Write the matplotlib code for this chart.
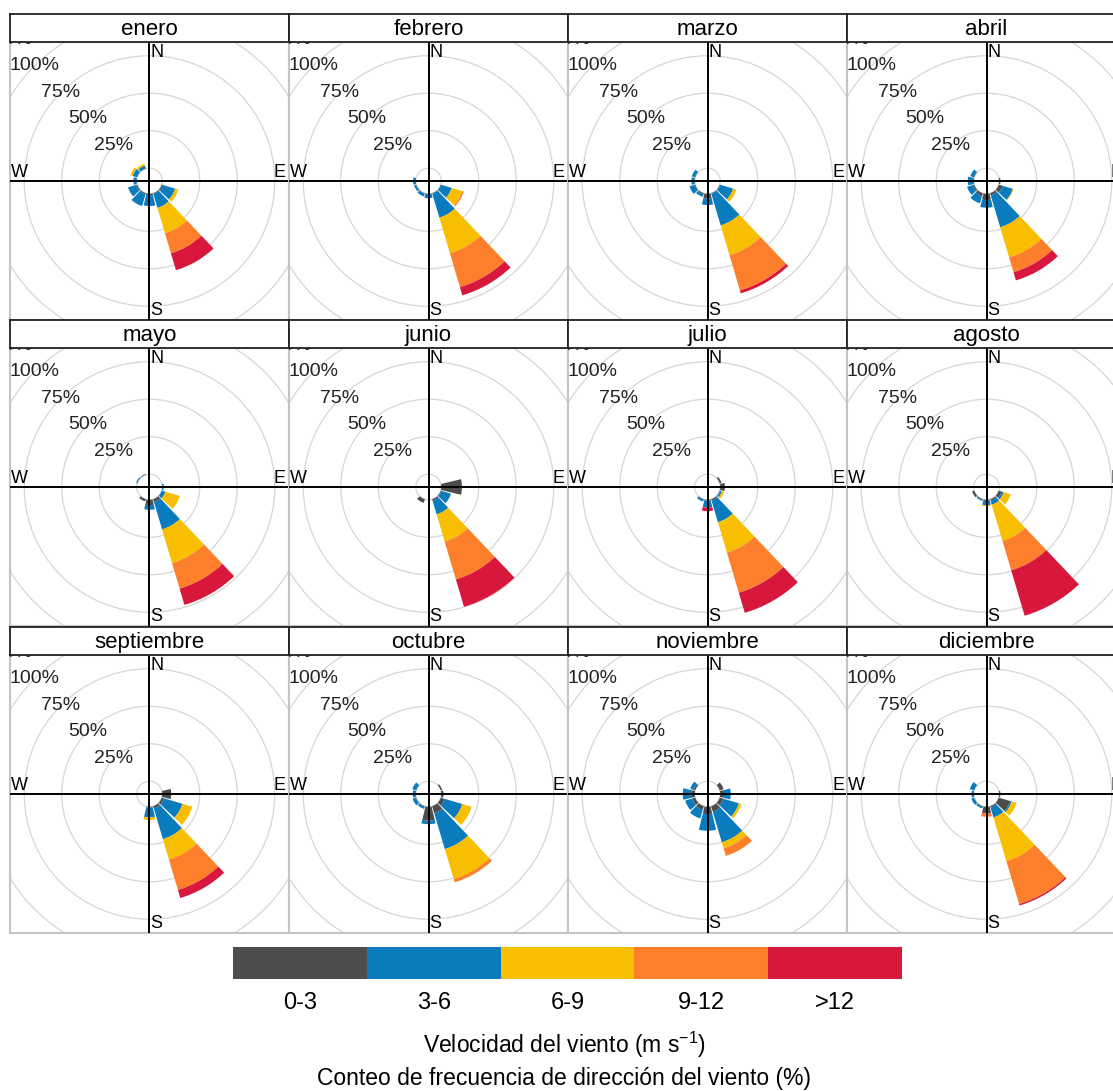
import matplotlib
matplotlib.use('Agg')
import matplotlib.pyplot as plt
from matplotlib.patches import Wedge, Circle
import numpy as np

plt.rcParams['font.family'] = ['Liberation Sans', 'DejaVu Sans']
plt.rcParams['mathtext.default'] = 'regular'

# frecuencia (%) por sector (grados) y rango de velocidad: 0-3, 3-6, 6-9, 9-12, >12
meses = ['enero', 'febrero', 'marzo', 'abril', 'mayo', 'junio', 'julio',
         'agosto', 'septiembre', 'octubre', 'noviembre', 'diciembre']
rangos = ['0-3', '3-6', '6-9', '9-12', '>12']
colores = ['#4D4D4D', '#0A7BBC', '#F8BE00', '#FD7F2B', '#D7173B']
niveles = [25, 50, 75, 100, 125]

enero = {120: [1.0, 8.3, 2.2, 0, 0], 150: [0.5, 9.7, 17.6, 14.0, 11.7],
         180: [1.0, 7.2, 0, 0, 0], 210: [0.7, 8.2, 0, 0, 0],
         240: [0.8, 5.6, 0, 0, 0], 270: [0.3, 1.9, 0, 0, 0],
         300: [0.2, 3.0, 1.5, 0, 0], 330: [0.2, 2.0, 1.3, 0, 0]}
febrero = {120: [0.2, 7.4, 7.4, 1.0, 0], 150: [0.3, 16.7, 24.8, 23.5, 5.7],
           180: [0.2, 2.8, 0, 0, 0], 210: [0.2, 2.0, 0, 0, 0],
           240: [0.1, 1.4, 0, 0, 0], 270: [0, 1.8, 0, 0, 0]}
marzo = {120: [0.3, 9.0, 2.2, 0, 0], 150: [0.3, 22.1, 20.7, 24.5, 2.0],
         180: [3.1, 4.4, 0, 0, 0], 210: [0.8, 1.7, 0, 0, 0],
         240: [0.3, 3.7, 0, 0, 0], 270: [0.2, 2.0, 0, 0, 0],
         300: [0.2, 2.2, 0, 0, 0]}
abril = {90: [0.8, 0, 0, 0, 0], 120: [2.7, 7.1, 0.5, 0, 0],
         150: [1.5, 22.2, 20.9, 10.4, 5.6], 180: [4.2, 5.1, 0, 0, 0],
         210: [2.0, 5.0, 0, 0, 0], 240: [1.0, 4.0, 0, 0, 0],
         270: [0.5, 3.5, 0, 0, 0], 300: [0.3, 2.4, 0, 0, 0]}
mayo = {90: [0, 1.0, 0, 0, 0], 120: [0, 2.5, 10.1, 0, 0],
        150: [2.0, 19.0, 23.4, 17.8, 11.3], 180: [3.6, 3.1, 0, 0, 0],
        210: [1.5, 0, 0, 0, 0], 300: [0, 0.8, 0, 0, 0], 330: [0, 0.5, 0, 0, 0]}
junio = {90: [13.8, 0, 0, 0, 0], 120: [0.5, 6.6, 0, 0, 0],
         150: [1.0, 9.5, 19.0, 26.3, 19.0], 210: [2.5, 0, 0, 0, 0]}
julio = {60: [1.2, 0, 0, 0, 0], 90: [3.1, 0, 0, 0, 0], 120: [0.3, 1.2, 1.5, 0, 0],
         150: [1.0, 15.0, 21.1, 27.9, 14.0], 180: [0.5, 4.8, 0, 0, 2.3],
         210: [0.3, 1.3, 0, 0, 0]}
agosto = {120: [2.0, 1.5, 4.9, 0, 0], 150: [1.0, 2.8, 25.2, 20.5, 31.5],
          180: [0.8, 2.8, 0.7, 0, 0], 210: [0.5, 0.7, 0, 0, 0],
          240: [1.5, 0, 0, 0, 0]}
septiembre = {90: [6.0, 0, 0, 0, 0], 120: [1.6, 12.8, 6.9, 0, 0],
              150: [1.5, 21.4, 14.2, 21.1, 5.6], 180: [0.5, 6.6, 1.8, 0, 0]}
octubre = {60: [1.0, 0, 0, 0, 0], 90: [1.5, 0, 0, 0, 0],
           120: [2.7, 12.3, 6.5, 0, 0], 150: [4.9, 24.9, 20.8, 2.3, 0],
           180: [9.3, 2.3, 0, 0, 0], 210: [0.3, 1.5, 0, 0, 0],
           240: [0.2, 2.3, 0, 0, 0], 270: [0, 2.0, 0, 0, 0], 300: [0, 2.7, 0, 0, 0]}
noviembre = {60: [2.7, 0, 0, 0, 0], 90: [2.5, 4.5, 0, 0, 0],
             120: [2.5, 10.8, 1.7, 0, 0], 150: [3.8, 21.3, 4.2, 5.2, 0],
             180: [4.9, 11.1, 0, 0, 0], 210: [2.5, 6.0, 0, 0, 0],
             240: [2.0, 5.0, 0, 0, 0], 270: [2.0, 6.0, 0, 0, 0],
             300: [1.0, 2.5, 0, 0, 0]}
diciembre = {90: [0.8, 0, 0, 0, 0], 120: [8.0, 1.0, 3.4, 0, 0],
             150: [1.0, 6.8, 30.4, 29.8, 1.0], 180: [4.4, 0, 0, 2.3, 0],
             210: [0.5, 1.0, 0, 0, 0], 240: [0, 2.0, 0, 0, 0],
             270: [0, 1.5, 0, 0, 0], 300: [0, 3.1, 0, 0, 0]}

datos = [enero, febrero, marzo, abril, mayo, junio, julio, agosto,
         septiembre, octubre, noviembre, diciembre]

W, H = 1113, 1091
col_x = [10, 289, 568, 847]
row_y = [42, 348, 655]
pw, ph, sh = 279, 278, 28
esc = 1.5          # pixeles por %
offset = 8.5       # radio del circulo central (%)
ancho = 27         # ancho angular de cada sector

fig = plt.figure(figsize=(W / 100, H / 100), dpi=100)

for i, (mes, d) in enumerate(zip(meses, datos)):
    fila, col = divmod(i, 4)
    x0, y0 = col_x[col], row_y[fila]
    ax = fig.add_axes([x0 / W, 1 - (y0 + ph) / H, pw / W, ph / H])
    xl = pw / 2 / esc
    yl = ph / 2 / esc
    ax.set_xlim(-xl, xl)
    ax.set_ylim(-yl, yl)
    ax.set_xticks([])
    ax.set_yticks([])
    for s in ax.spines.values():
        s.set_color('#C4C4C4')
        s.set_linewidth(1.5)

    for k in [0] + niveles:
        ax.add_patch(Circle((0, 0), offset + k, fill=False, ec='#D6D6D6', lw=0.9, zorder=1))

    for ang, vals in d.items():
        acum = offset + np.concatenate([[0], np.cumsum(vals)])
        t1 = 90 - ang - ancho / 2
        t2 = 90 - ang + ancho / 2
        for b in range(5):
            if vals[b] <= 0:
                continue
            ax.add_patch(Wedge((0, 0), acum[b + 1], t1, t2, width=acum[b + 1] - acum[b],
                               fc=colores[b], ec='none', zorder=2))

    ax.axhline(0, color='black', lw=1.4, zorder=3)
    ax.axvline(0, color='black', lw=1.4, zorder=3)

    for k in niveles:
        rr = offset + k
        t = ax.text(-rr * np.cos(np.pi / 4), rr * np.sin(np.pi / 4), '%d%%' % k,
                    ha='center', va='center', fontsize=14, color='#222222', zorder=4)
        t.set_clip_on(True)

    for x, y, s, ha, va in [(0.6, yl - 1.5, 'N', 'left', 'top'),
                            (0.6, -yl + 0.5, 'S', 'left', 'bottom'),
                            (-xl + 0.5, 0.3, 'W', 'left', 'bottom'),
                            (xl - 2, 0.3, 'E', 'right', 'bottom')]:
        t = ax.text(x, y, s, ha=ha, va=va, fontsize=13, zorder=4)
        t.set_clip_on(True)

    # franja con el nombre del mes
    sax = fig.add_axes([x0 / W, 1 - y0 / H, pw / W, sh / H])
    sax.set_xticks([])
    sax.set_yticks([])
    for s in sax.spines.values():
        s.set_color('#222222')
        s.set_linewidth(1.3)
    sax.text(0.5, 0.45, mes, ha='center', va='center', fontsize=16, transform=sax.transAxes)

# leyenda de velocidades
lax = fig.add_axes([233 / W, 1 - 979 / H, 669 / W, 32 / H])
lax.barh(0, [1] * 5, left=range(5), color=colores, height=1)
lax.set_xlim(0, 5)
lax.set_ylim(-0.5, 0.5)
lax.axis('off')
for i, r in enumerate(rangos):
    fig.text((233 + 669 * (i + 0.5) / 5) / W, 1 - 1003 / H, r, ha='center', va='center',
             fontsize=17)
fig.text(564 / W, 1 - 1045 / H, 'Velocidad del viento (m s$^{-1}$)', ha='center', va='center',
         fontsize=16.5)
fig.text(564 / W, 1 - 1079 / H, 'Conteo de frecuencia de dirección del viento (%)',
         ha='center', va='center', fontsize=16.5)

fig.savefig('out.png', dpi=100)
